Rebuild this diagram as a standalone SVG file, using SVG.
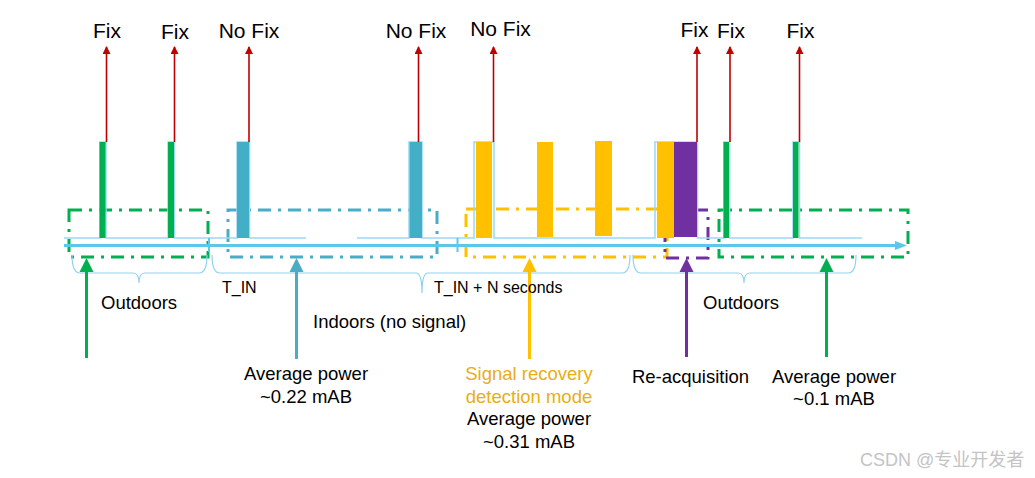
<svg xmlns="http://www.w3.org/2000/svg" width="1035" height="478" viewBox="0 0 1035 478">
<defs>
<style>
.lbl{font-family:"Liberation Sans",Arial,sans-serif;fill:#000}
.fix{font-size:21px;text-anchor:middle}
.main{font-size:18.5px}
.small{font-size:16px}
.mid{text-anchor:middle}
.sig{fill:none;stroke:#9BD8F2;stroke-width:1.5}
.box{fill:none;stroke-width:3;stroke-dasharray:13 7 3 7}
.brace{fill:none;stroke:#8FD2EE;stroke-width:1.2}
.red{stroke:#C00000;stroke-width:1.6;fill:none}
.thick{stroke-width:3;fill:none}
</style>
<marker id="redHead" viewBox="0 0 8 8" refX="7" refY="4" markerWidth="8" markerHeight="8" markerUnits="userSpaceOnUse" orient="auto">
<path d="M0,0 L8,4 L0,8 Z" fill="#C00000"/>
</marker>
</defs>
<rect width="1035" height="478" fill="#fff"/>

<g id="state-boxes">
<rect x="69" y="210" width="139" height="47" class="box" stroke="#00B050"/>
<rect x="228" y="210" width="209" height="47" class="box" stroke="#4BACC6"/>
<rect x="466" y="209" width="201" height="48" class="box" stroke="#FFC000"/>
<rect x="665" y="210" width="43" height="48" class="box" stroke="#7030A0"/>
<rect x="719" y="210" width="189" height="47" class="box" stroke="#00B050"/>
</g>

<g id="signal">
<path class="sig" d="M64,238 H100 V142 H106 V238 H168 V142 H174.5 V238 H237 V142 H249.5 V238 H306 M357,238 H409 V142 H422 V238 H474 V142 H494 V238 H655 V142 H697.5 V238 H724 V142 H729.5 V238 H793 V142 H799.5 V238 H862"/>
</g>

<g id="axis">
<line x1="64" y1="245.5" x2="897" y2="245.5" stroke="#5BC8EA" stroke-width="3"/>
<path d="M895,241 L907,245.5 L895,250 Z" fill="#5BC8EA"/>
<line x1="209" y1="238" x2="209" y2="252" stroke="#5BC8EA" stroke-width="2"/>
<line x1="457.5" y1="238" x2="457.5" y2="252" stroke="#5BC8EA" stroke-width="2"/>
</g>

<g id="bars">
<rect x="99.5" y="142" width="6" height="96" fill="#00B050"/>
<rect x="168" y="142" width="6" height="96" fill="#00B050"/>
<rect x="237" y="142" width="12" height="96" fill="#43AFC6"/>
<rect x="409.5" y="142" width="12.5" height="96" fill="#43AFC6"/>
<rect x="476" y="142" width="16" height="96" fill="#FFC000"/>
<rect x="537" y="142" width="16" height="95" fill="#FFC000"/>
<rect x="595" y="141" width="17" height="95" fill="#FFC000"/>
<rect x="657" y="142" width="17" height="96" fill="#FFC000"/>
<rect x="674" y="142" width="23" height="95" fill="#7030A0"/>
<rect x="723.5" y="142" width="5.5" height="96" fill="#00B050"/>
<rect x="793" y="142" width="5.5" height="96" fill="#00B050"/>
</g>

<g id="braces">
<path class="brace" d="M72,255 Q72,273 80,273 H133 Q139,273 139,283 Q139,273 145,273 H199 Q207,273 207,255"/>
<path class="brace" d="M212,255 Q212,273 220,273 H416 Q422,273 422,293 Q422,273 428,273 H622 Q630,273 630,255"/>
<path class="brace" d="M633,255 Q633,273 641,273 H738 Q744,273 744,283 Q744,273 750,273 H848 Q856,273 856,255"/>
</g>

<g id="connectors">
<line class="red" x1="106.5" y1="142" x2="106.5" y2="47" marker-end="url(#redHead)"/>
<line class="red" x1="174.5" y1="142" x2="174.5" y2="47" marker-end="url(#redHead)"/>
<line class="red" x1="249" y1="142" x2="249" y2="47" marker-end="url(#redHead)"/>
<line class="red" x1="418.5" y1="142" x2="418.5" y2="47" marker-end="url(#redHead)"/>
<line class="red" x1="493.5" y1="142" x2="493.5" y2="47" marker-end="url(#redHead)"/>
<line class="red" x1="697" y1="142" x2="697" y2="47" marker-end="url(#redHead)"/>
<line class="red" x1="730" y1="142" x2="730" y2="47" marker-end="url(#redHead)"/>
<line class="red" x1="799.5" y1="142" x2="799.5" y2="47" marker-end="url(#redHead)"/>

<line class="thick" x1="86.5" y1="358" x2="86.5" y2="270" stroke="#00B050"/>
<path d="M79.5,272 L86.5,258 L93.5,272 Z" fill="#00B050"/>
<line class="thick" x1="296.5" y1="359" x2="296.5" y2="270" stroke="#4BACC6"/>
<path d="M289.5,272 L296.5,258 L303.5,272 Z" fill="#4BACC6"/>
<line class="thick" x1="529.5" y1="359" x2="529.5" y2="270" stroke="#FFC000"/>
<path d="M522.5,272 L529.5,258 L536.5,272 Z" fill="#FFC000"/>
<line class="thick" x1="686.5" y1="357" x2="686.5" y2="270" stroke="#7030A0"/>
<path d="M679.5,272 L686.5,258 L693.5,272 Z" fill="#7030A0"/>
<line class="thick" x1="826.5" y1="357" x2="826.5" y2="270" stroke="#00B050"/>
<path d="M819.5,272 L826.5,258 L833.5,272 Z" fill="#00B050"/>
</g>

<g id="fix-labels" class="lbl fix">
<text x="107" y="38">Fix</text>
<text x="175" y="39">Fix</text>
<text x="249" y="38">No Fix</text>
<text x="416" y="38">No Fix</text>
<text x="500.5" y="36">No Fix</text>
<text x="694.5" y="37">Fix</text>
<text x="731" y="38">Fix</text>
<text x="800.5" y="38">Fix</text>
</g>

<g id="period-labels" class="lbl">
<text class="main" x="101" y="309">Outdoors</text>
<text class="small" x="222" y="292.5">T_IN</text>
<text class="small" x="434" y="292.5">T_IN + N seconds</text>
<text class="main" x="313" y="327.5">Indoors (no signal)</text>
<text class="main" x="703" y="309">Outdoors</text>
</g>

<g id="power-indoor" class="lbl main mid">
<text x="306" y="380">Average power</text>
<text x="306" y="403">~0.22 mAB</text>
</g>

<g id="power-recovery" class="lbl main mid">
<text x="529" y="380" style="fill:#E8AE14">Signal recovery</text>
<text x="529" y="403" style="fill:#E8AE14">detection mode</text>
<text x="529" y="425">Average power</text>
<text x="529" y="448">~0.31 mAB</text>
</g>

<g id="reacq" class="lbl main mid">
<text x="690.5" y="383">Re-acquisition</text>
</g>

<g id="power-outdoor" class="lbl main mid">
<text x="834" y="383">Average power</text>
<text x="834" y="405">~0.1 mAB</text>
</g>

<text x="860" y="466" font-family="Liberation Sans, Noto Sans CJK SC, sans-serif" font-size="18" fill="#C4C4C4">CSDN @专业开发者</text>
</svg>
